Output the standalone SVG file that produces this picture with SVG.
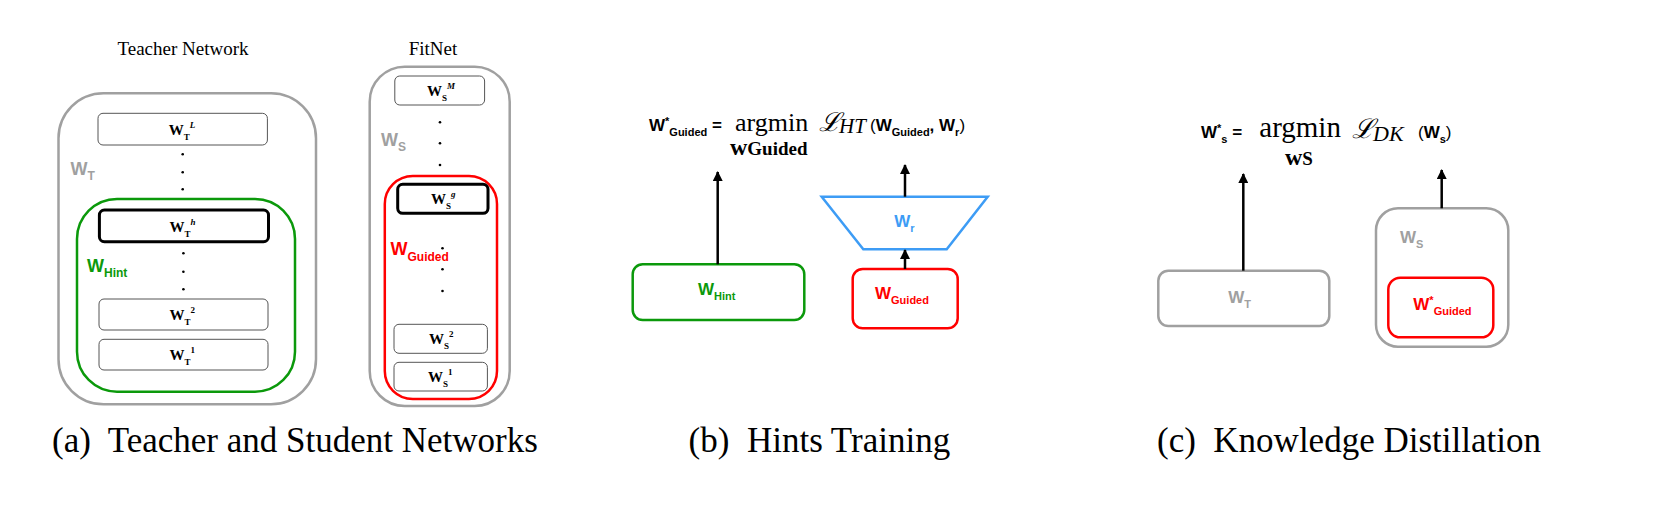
<svg xmlns="http://www.w3.org/2000/svg" width="1680" height="508" viewBox="0 0 1680 508">
<defs>
<marker id="ah" viewBox="0 0 10 10" refX="9" refY="5" markerWidth="4" markerHeight="4" orient="auto" markerUnits="strokeWidth"><path d="M0,0 L10,5 L0,10 z" fill="#000"/></marker>
</defs>
<style>
.cap{font-family:"Liberation Serif",serif;font-size:35px;fill:#000}
.ttl{font-family:"Liberation Serif",serif;font-size:19px;fill:#000}
.lay{fill:#fff;stroke:#555;stroke-width:1}
.layb{fill:#fff;stroke:#000;stroke-width:3}
.lw{font-family:"Liberation Serif",serif;font-weight:bold;font-size:15px;fill:#000}
.ls{font-size:9px}
.lsi{font-size:9px;font-style:italic}
.gry{fill:none;stroke:#a0a0a0;stroke-width:2.5}
.grn{fill:none;stroke:#0b990b;stroke-width:2.5}
.red{fill:none;stroke:#ff0000;stroke-width:2.5}
.sl{font-family:"Liberation Sans",sans-serif;font-weight:bold;font-size:18px}
.sl2{font-family:"Liberation Sans",sans-serif;font-weight:bold;font-size:17px}
.sm{font-size:12px}
.dot{fill:#000}
.eq{font-family:"Liberation Sans",sans-serif;font-weight:bold;font-size:17px;fill:#000}
.eqs{font-size:11px}
.mth{font-family:"Liberation Serif",serif;fill:#000}
.scr{font-family:"Liberation Serif",serif;font-style:italic;fill:#000}
.it{font-family:"Liberation Serif",serif;font-style:italic;fill:#000}
.bw{font-family:"Liberation Serif",serif;font-weight:bold;fill:#000}
.arr{stroke:#000;stroke-width:2.5;fill:none;marker-end:url(#ah)}
</style>

<!-- Panel (a) -->
<text class="ttl" x="183" y="55" text-anchor="middle">Teacher Network</text>
<text class="ttl" x="433" y="55" text-anchor="middle">FitNet</text>

<g id="teacher">
<rect class="gry" x="58.5" y="93.3" width="257.5" height="311" rx="45"/>
<text class="sl" x="70.6" y="175" fill="#a0a0a0">W<tspan class="sm" dy="5">T</tspan></text>
</g>
<g id="hint-region">
<rect class="grn" x="77" y="199" width="218" height="192.7" rx="40"/>
<text class="sl" x="87" y="271.7" fill="#0b990b">W<tspan class="sm" dy="5">Hint</tspan></text>
</g>
<g id="wtL"><rect class="lay" x="98" y="113.3" width="169.4" height="31.7" rx="5"/>
<text class="lw" x="168.7" y="135">W<tspan class="ls" dy="5">T</tspan><tspan class="lsi" dy="-12">L</tspan></text></g>
<g id="wth"><rect class="layb" x="99.4" y="210" width="169.1" height="31.7" rx="5"/>
<text class="lw" x="169.5" y="231.5">W<tspan class="ls" dy="5">T</tspan><tspan class="lsi" dy="-12">h</tspan></text></g>
<g id="wt2"><rect class="lay" x="99" y="299" width="169" height="31" rx="5"/>
<text class="lw" x="169.5" y="320">W<tspan class="ls" dy="5">T</tspan><tspan class="ls" dy="-12">2</tspan></text></g>
<g id="wt1"><rect class="lay" x="99" y="339.3" width="169" height="30.7" rx="5"/>
<text class="lw" x="169.5" y="360">W<tspan class="ls" dy="5">T</tspan><tspan class="ls" dy="-12">1</tspan></text></g>
<g id="dots-a">
<circle class="dot" cx="182.7" cy="154.3" r="1.3"/><circle class="dot" cx="182.7" cy="172.3" r="1.3"/><circle class="dot" cx="182.7" cy="189.3" r="1.3"/>
<circle class="dot" cx="183.4" cy="253.3" r="1.3"/><circle class="dot" cx="183.4" cy="271.7" r="1.3"/><circle class="dot" cx="183.4" cy="289.3" r="1.3"/>
</g>

<g id="fitnet">
<rect class="gry" x="369.7" y="66.7" width="140" height="339.3" rx="35"/>
<text class="sl" x="381" y="145.7" fill="#a0a0a0">W<tspan class="sm" dy="5">S</tspan></text>
</g>
<g id="guided-region">
<rect class="red" x="384.8" y="176" width="112.2" height="223" rx="28"/>
<text class="sl" x="390.5" y="255" fill="#ff0000">W<tspan class="sm" dy="6">Guided</tspan></text>
</g>
<g id="wsM"><rect class="lay" x="394.8" y="76" width="89.8" height="29" rx="5"/>
<text class="lw" x="427" y="96">W<tspan class="ls" dy="5">S</tspan><tspan class="lsi" dy="-12">M</tspan></text></g>
<g id="wsg"><rect class="layb" x="397.7" y="184.3" width="90.3" height="29" rx="5"/>
<text class="lw" x="431" y="204">W<tspan class="ls" dy="5">S</tspan><tspan class="lsi" dy="-12">g</tspan></text></g>
<g id="ws2"><rect class="lay" x="394" y="324.3" width="93.4" height="29" rx="5"/>
<text class="lw" x="429" y="344">W<tspan class="ls" dy="5">S</tspan><tspan class="ls" dy="-12">2</tspan></text></g>
<g id="ws1"><rect class="lay" x="394" y="362.3" width="93.4" height="28.7" rx="5"/>
<text class="lw" x="428" y="382">W<tspan class="ls" dy="5">S</tspan><tspan class="ls" dy="-12">1</tspan></text></g>
<g id="dots-b">
<circle class="dot" cx="440" cy="122.3" r="1.3"/><circle class="dot" cx="440" cy="143.3" r="1.3"/><circle class="dot" cx="440" cy="165" r="1.3"/>
<circle class="dot" cx="442.5" cy="248.3" r="1.3"/><circle class="dot" cx="442.5" cy="269.3" r="1.3"/><circle class="dot" cx="442.5" cy="291" r="1.3"/>
</g>
<text class="cap" x="52" y="451.7" xml:space="preserve">(a)  Teacher and Student Networks</text>

<!-- Panel (b) -->
<g id="eq-b">
<text class="eq" x="649" y="130.7">W<tspan class="eqs" dy="-6">*</tspan><tspan class="eqs" dy="11">Guided</tspan><tspan dy="-5"> =</tspan></text>
<text class="mth" x="735" y="130.7" style="font-size:26px">argmin</text>
<text class="bw" x="730" y="155" style="font-size:24px">w<tspan style="font-size:19px">Guided</tspan></text>
<text class="scr" x="819" y="130.7" style="font-size:26px">ℒ</text>
<text class="it" x="839" y="133" style="font-size:21px">HT</text>
<text class="eq" x="870" y="130.7"><tspan style="font-weight:normal">(</tspan>W<tspan class="eqs" dy="5">Guided</tspan><tspan dy="-5">, W</tspan><tspan class="eqs" dy="5">r</tspan><tspan style="font-weight:normal" dy="-5">)</tspan></text>
</g>
<g id="hint-b"><rect class="grn" x="632.7" y="264.3" width="171.6" height="55.7" rx="10"/>
<text class="sl2" x="698" y="295" fill="#0b990b">W<tspan class="eqs" dy="5">Hint</tspan></text></g>
<g id="regressor"><polygon points="821.7,196.7 987.7,196.7 946.7,249.3 863.3,249.3" fill="none" stroke="#3d9cf5" stroke-width="2.5"/>
<text class="sl2" x="894.3" y="226.7" fill="#3d9cf5">W<tspan class="eqs" dy="5">r</tspan></text></g>
<g id="guided-b"><rect class="red" x="852.7" y="269" width="105" height="59.3" rx="10"/>
<text class="sl2" x="875" y="299.3" fill="#ff0000">W<tspan class="eqs" dy="5">Guided</tspan></text></g>
<text class="cap" x="688.6" y="451.7" xml:space="preserve">(b)  Hints Training</text>

<!-- Panel (c) -->
<g id="eq-c">
<text class="eq" x="1201" y="138.3">W<tspan class="eqs" dy="-6">*</tspan><tspan class="eqs" dy="11">s</tspan><tspan dy="-5"> =</tspan></text>
<text class="mth" x="1259.3" y="137" style="font-size:29px">argmin</text>
<text class="scr" x="1351.7" y="138.3" style="font-size:27px">ℒ</text>
<text class="it" x="1373" y="141" style="font-size:22px">DK</text>
<text class="eq" x="1418" y="138.3"><tspan style="font-weight:normal">(</tspan>W<tspan class="eqs" dy="5">s</tspan><tspan style="font-weight:normal" dy="-5">)</tspan></text>
<text class="bw" x="1285" y="165" style="font-size:24px">w<tspan style="font-size:19px">S</tspan></text>
</g>
<g id="teacher-c"><rect class="gry" x="1158.3" y="270.7" width="171" height="55.3" rx="10"/>
<text class="sl2" x="1228.3" y="302.7" fill="#a0a0a0">W<tspan class="eqs" dy="5">T</tspan></text></g>
<g id="student-c"><rect class="gry" x="1376" y="208.3" width="132.3" height="138.4" rx="22"/>
<text class="sl2" x="1400" y="242.7" fill="#a0a0a0">W<tspan class="eqs" dy="5">S</tspan></text></g>
<g id="guided-c"><rect class="red" x="1388.3" y="277.7" width="105" height="59.6" rx="12"/>
<text class="sl2" x="1413.3" y="310" fill="#ff0000">W<tspan class="eqs" dy="-6">*</tspan><tspan class="eqs" dy="11">Guided</tspan></text></g>
<text class="cap" x="1157" y="451.7" xml:space="preserve">(c)  Knowledge Distillation</text>

<g id="connectors">
<line class="arr" x1="717.7" y1="264.3" x2="717.7" y2="172"/>
<line class="arr" x1="905" y1="196.7" x2="905" y2="165"/>
<line class="arr" x1="905" y1="269" x2="905" y2="250"/>
<line class="arr" x1="1243.3" y1="270.7" x2="1243.3" y2="174"/>
<line class="arr" x1="1441.7" y1="208.3" x2="1441.7" y2="170"/>
</g>
</svg>
